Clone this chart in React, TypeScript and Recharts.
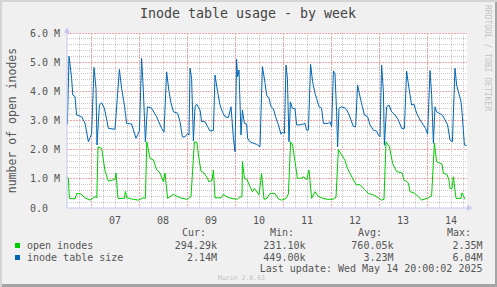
import { LineChart, Line, XAxis, YAxis, CartesianGrid, ReferenceLine } from 'recharts'

// x values are hours since Tue 06 12:00, y values are millions of inodes
const dayLabels = ['07', '08', '09', '10', '11', '12', '13', '14']
const dayTicks = [24, 48, 72, 96, 120, 144, 168, 192]
const midnightHours = [12, 36, 60, 84, 108, 132, 156, 180]
const valueTicks = [0, 1, 2, 3, 4, 5, 6]

const openHours = [
  0.2, 0.7, 1.2, 4, 4.9, 6.9, 9, 11.5, 14, 14.9, 15.5, 17.3, 19, 20.7, 22.9, 24, 24.5, 25.5,
  28.7, 29.2, 29.9, 32.3, 35.7, 38.2, 39.2, 39.9, 41.5, 43.2, 44.8, 46.5, 48.2, 49, 50.3, 53.2,
  55, 57.5, 60, 62, 63.7, 65, 65.7, 67, 68.5, 69.8, 71, 72.5, 73.2, 74, 77, 78.2, 80, 82, 85,
  86.5, 87.5, 87.7, 88.7, 90, 91.5, 92.7, 93.7, 95, 96, 97.3, 98.5, 100, 101.5, 104, 105.7,
  107.3, 109.5, 110.7, 111.8, 112.8, 114, 115.2, 117, 118.5, 119.8, 121, 122.3, 124, 125.6, 128,
  130, 133, 134.5, 135.7, 137.3, 139, 140.2, 141.5, 143.2, 144.8, 146.5, 149, 150.7, 153.2,
  155.5, 157.3, 158.5, 159.5, 161.2, 162.8, 164.8, 167.5, 168.5, 170, 170.7, 171.5, 173.5,
  174.8, 177.3, 180, 182.3, 183.7, 184.8, 187.5, 188.2, 190, 191, 191.5, 192.5, 193.2, 194.5,
  197, 197.5, 199,
]
const openValues = [
  1.07, 1.0, 0.33, 0.31, 0.5, 0.48, 0.35, 0.27, 0.39, 0.35, 2.1, 2.05, 1.27, 0.92, 0.96, 0.98, 1.2, 0.33,
  0.33, 0.57, 0.35, 0.31, 0.27, 0.35, 0.33, 2.27, 1.7, 1.65, 1.32, 1.2, 0.9, 1.2, 0.33, 0.47,
  0.4, 0.33, 0.3, 0.39, 2.27, 2.25, 1.82, 1.27, 1.2, 1.07, 0.9, 0.95, 1.3, 0.35, 0.35, 0.47, 0.38, 0.33, 0.3,
  0.38, 0.38, 1.59, 1.02, 0.98, 0.73, 0.56, 0.67, 0.55, 0.45, 1.19, 0.3, 0.33, 0.5, 0.5, 0.31,
  0.27, 0.33, 0.48, 2.27, 2.16, 1.6, 1.02, 1.02, 1.07, 0.96, 1.3, 0.33, 0.56, 0.4, 0.33,
  0.3, 0.3, 0.37, 2.01, 1.82, 1.63, 1.36, 1.19, 0.96, 0.79, 0.8, 0.62, 0.5, 0.45,
  0.36, 0.27, 0.3, 2.27, 2.1, 1.53, 1.25, 1.2, 0.96, 0.9, 0.85, 0.56, 0.52,
  0.45, 0.27, 0.33, 0.41, 2.22, 1.59, 1.5, 1.19, 1.15, 0.95, 0.67, 0.67, 1.07, 0.33,
  0.33, 0.52, 0.3,
]

const sizeHours = [
  0.2, 1, 2.3, 2.9, 4, 4.8, 7.3, 9, 10.7, 12.3, 13.5, 14.5, 15, 16.2, 17.3, 18.7, 20.7, 24,
  26.2, 27.3, 28.7, 29.8, 32.3, 34.5, 36.2, 37.3, 38.2, 39.2, 40.2, 42.3, 44.8, 47.3, 48.5,
  49.8, 51, 52, 53.2, 55.3, 56.5, 57.7, 59, 60.3, 61, 61.5, 62.3, 63.2, 64, 64.8, 66.5, 67.3,
  69, 70.3, 71.5, 73.2, 74, 75.3, 76.5, 77.7, 79, 80.7, 82, 83.2, 84, 84.8, 85.3, 86, 87, 87.7,
  88.7, 89.8, 90.3, 91.5, 94.8, 96.5, 97.7, 99, 99.8, 101, 102, 103.2, 104.3, 105.7, 107,
  107.8, 108.7, 109.5, 110.2, 111, 111.7, 112.7, 114, 114.8, 116.5, 118.2, 119, 119.8, 120.7,
  121.8, 122.8, 124, 124.8, 126, 127.3, 128.2, 130.7, 131.5, 132.3, 133.2, 134, 134.8, 135.3,
  136, 137.3, 139.3, 140.7, 142, 143.2, 144.3, 145.3, 146.5, 147.7, 148.7, 150.3, 151.5, 153.2,
  154.8, 155.7, 156.5, 157.3, 158.2, 158.7, 159.8, 161, 162.3, 164, 165.7, 167.3, 168.7,
  169.8, 171, 172.3, 173.5, 174.8, 176.5, 178.2, 179.3, 180.3, 181.5, 182.3, 183.2, 184,
  184.8, 186, 187.7, 189, 190.3, 191.5, 192.7, 194, 194.8, 195.7, 197, 197.7, 198.7, 199.8,
]
const sizeValues = [
  2.87, 5.2, 4.45, 3.87, 3.82, 3.19, 3.13, 2.91, 2.27, 2.54, 4.82, 4.1, 2.16, 3.53, 3.61, 3.42, 2.73, 2.7,
  4.75, 4.1, 3.53, 2.9, 2.88, 2.39, 2.64, 5.13, 3.99, 2.27, 3.47, 3.42, 3.13, 2.73, 2.6,
  4.67, 3.99, 3.6, 3.3, 3.25, 2.96, 2.44, 2.44, 2.56, 2.5, 4.79, 4.45, 2.3, 3.47, 3.56, 3.36, 2.96,
  2.96, 2.79, 2.64, 2.66, 4.56, 3.99, 3.53, 3.3, 3.13, 3.1, 3.47, 2.39, 1.93, 5.1, 4.5, 4.73, 2.5, 3.36,
  2.9, 2.88, 2.39, 2.27, 2.18, 2.1, 4.85, 4.3, 3.87, 3.76, 3.47, 3.4, 3.13, 2.85, 2.53,
  2.6, 2.56, 4.9, 4.45, 2.27, 3.64, 3.42, 3.4, 2.85, 2.85, 2.88, 2.9, 2.67, 2.67,
  4.92, 4.33, 3.93, 3.76, 3.47, 3.42, 2.9, 2.9, 2.96, 2.79, 4.7, 4.6, 3.3, 2.1,
  3.42, 3.47, 3.42, 3.25, 3.02, 2.79, 2.79, 4.22, 3.82, 3.47, 3.19, 3.13, 2.85, 2.67,
  2.64, 2.5, 2.44, 4.9, 3.99, 2.15, 3.47, 3.53, 3.3, 3.19, 3.02, 2.73, 2.73,
  4.69, 4.1, 3.53, 3.56, 3.25, 3.02, 2.85, 2.73, 2.53, 4.71, 3.9, 2.22, 3.47,
  3.3, 3.25, 3.19, 3.02, 2.85, 2.33, 2.27, 4.79, 4.22, 3.99, 3.64, 3.13, 2.16, 2.14,
]

const openData = openHours.map((h, i) => ({ h, v: openValues[i] }))
const sizeData = sizeHours.map((h, i) => ({ h, v: sizeValues[i] }))

const minorHours: number[] = []
for (let h = 6; h < 200; h += 6) if ((h - 12) % 24 !== 0) minorHours.push(h)
const minorValues: number[] = []
for (let i = 1; i < 30; i++) if (i % 5 !== 0) minorValues.push(i / 5)

const font = '"DejaVu Sans Mono", monospace'
const textColor = '#555'
const axisColor = '#c4c8f0'
const minorColor = '#c8c8c8'
const majorColor = '#f3a3a3'

// snap grid lines onto whole pixels so the dots stay sharp, like rrdtool's
const snap = (p: number) => Math.floor(p) + 0.5

function makeGridShape(color: string, dash?: string) {
  return function GridShape(props: { x1?: number; y1?: number; x2?: number; y2?: number }) {
    const { x1 = 0, y1 = 0, x2 = 0, y2 = 0 } = props
    const vertical = Math.abs(x1 - x2) < 0.01
    return vertical ? (
      <line x1={snap(x1)} x2={snap(x1)} y1={Math.min(y1, y2)} y2={Math.max(y1, y2)} stroke={color} strokeDasharray={dash} />
    ) : (
      <line x1={Math.min(x1, x2)} x2={Math.max(x1, x2)} y1={snap(y1)} y2={snap(y1)} stroke={color} strokeDasharray={dash} />
    )
  }
}
const minorShape = makeGridShape(minorColor, '1 1')
const majorShape = makeGridShape(majorColor, '2 1')

function YTick({ y, payload }: { y?: number; payload?: { value: number } }) {
  const v = payload?.value ?? 0
  return (
    <text x={30} y={y} dominantBaseline="central" fill={textColor} fontSize={10} fontFamily={font}>
      {v === 0 ? '0.0' : `${v.toFixed(1)} M`}
    </text>
  )
}

function XTick({ x, y, payload }: { x?: number; y?: number; payload?: { value: number } }) {
  const i = dayTicks.indexOf(payload?.value ?? -1)
  return (
    <text x={x} y={(y ?? 0) + 10} textAnchor="middle" dominantBaseline="central" fill={textColor} fontSize={10} fontFamily={font}>
      {dayLabels[i]}
    </text>
  )
}

const legendRows = [
  { name: 'open inodes', color: '#00cc00', cur: '294.29k', min: '231.10k', avg: '760.05k', max: '2.35M', y: 245.5 },
  { name: 'inode table size', color: '#0066b3', cur: '2.14M', min: '449.00k', avg: '3.23M', max: '6.04M', y: 257.5 },
]

export default function App() {
  return (
    <div
      style={{
        position: 'absolute',
        left: 0,
        top: 0,
        width: 497,
        height: 287,
        background: '#f0f0f0',
        boxShadow: 'inset 2px 2px 0 #d4d4d4, inset -2px -3px 0 #a4a4a4',
      }}
    >
      <LineChart width={497} height={287} margin={{ top: 33, right: 30, bottom: 59, left: 7 }}>
        <CartesianGrid horizontal={false} vertical={false} fill="#ffffff" />
        <XAxis
          dataKey="h"
          type="number"
          domain={[0, 200]}
          ticks={dayTicks}
          tick={<XTick />}
          tickSize={0}
          tickLine={false}
          axisLine={{ stroke: axisColor }}
          height={20}
          allowDataOverflow
        />
        <YAxis
          type="number"
          domain={[0, 6]}
          ticks={valueTicks}
          tick={<YTick />}
          tickSize={0}
          tickLine={false}
          axisLine={{ stroke: axisColor }}
          width={60}
          allowDataOverflow
        />
        {minorValues.map((v) => (
          <ReferenceLine key={`mv${v}`} y={v} shape={minorShape} />
        ))}
        {minorHours.map((h) => (
          <ReferenceLine key={`mh${h}`} x={h} shape={minorShape} />
        ))}
        {valueTicks.slice(1).map((v) => (
          <ReferenceLine key={`Mv${v}`} y={v} shape={majorShape} />
        ))}
        {midnightHours.map((h) => (
          <ReferenceLine key={`Mh${h}`} x={h} shape={majorShape} />
        ))}
        <Line
          data={sizeData}
          dataKey="v"
          type="linear"
          stroke="#0066b3"
          strokeWidth={1}
          dot={false}
          isAnimationActive={false}
        />
        <Line
          data={openData}
          dataKey="v"
          type="linear"
          stroke="#00cc00"
          strokeWidth={1}
          dot={false}
          isAnimationActive={false}
        />
      </LineChart>

      <svg
        width={497}
        height={287}
        style={{ position: 'absolute', left: 0, top: 0, pointerEvents: 'none' }}
        fontFamily={font}
      >
        <polygon points="64,33 70,33 67,27" fill={axisColor} />
        <polygon points="467,205 467,211 473,208" fill={axisColor} />
        <text x={248} y={13} textAnchor="middle" dominantBaseline="central" fontSize={13.3} fill="#444">
          Inode table usage - by week
        </text>
        <text
          x={12}
          y={120.5}
          textAnchor="middle"
          dominantBaseline="central"
          fontSize={11.5}
          fill={textColor}
          transform="rotate(-90 12 120.5)"
        >
          number of open inodes
        </text>
        <text
          x={487}
          y={5}
          dominantBaseline="central"
          fontSize={8}
          fill="#c4c4c4"
          transform="rotate(90 487 5)"
        >
          RRDTOOL / TOBI OETIKER
        </text>
        <g fontSize={10} fill={textColor}>
          <text x={182} y={232} dominantBaseline="central">Cur:</text>
          <text x={270} y={232} dominantBaseline="central">Min:</text>
          <text x={358} y={232} dominantBaseline="central">Avg:</text>
          <text x={447} y={232} dominantBaseline="central">Max:</text>
          {legendRows.map((r) => (
            <g key={r.name}>
              <rect x={15} y={r.y - 2.5} width={5} height={5} fill={r.color} />
              <text x={27} y={r.y} dominantBaseline="central">{r.name}</text>
              <text x={217} y={r.y} textAnchor="end" dominantBaseline="central">{r.cur}</text>
              <text x={305.5} y={r.y} textAnchor="end" dominantBaseline="central">{r.min}</text>
              <text x={393.5} y={r.y} textAnchor="end" dominantBaseline="central">{r.avg}</text>
              <text x={482.5} y={r.y} textAnchor="end" dominantBaseline="central">{r.max}</text>
            </g>
          ))}
          <text x={482.5} y={268.5} textAnchor="end" dominantBaseline="central">
            Last update: Wed May 14 20:00:02 2025
          </text>
        </g>
        <text x={218} y={278} dominantBaseline="central" fontSize={6.5} fill="#c4c4c4">
          Munin 2.0.63
        </text>
      </svg>
    </div>
  )
}
